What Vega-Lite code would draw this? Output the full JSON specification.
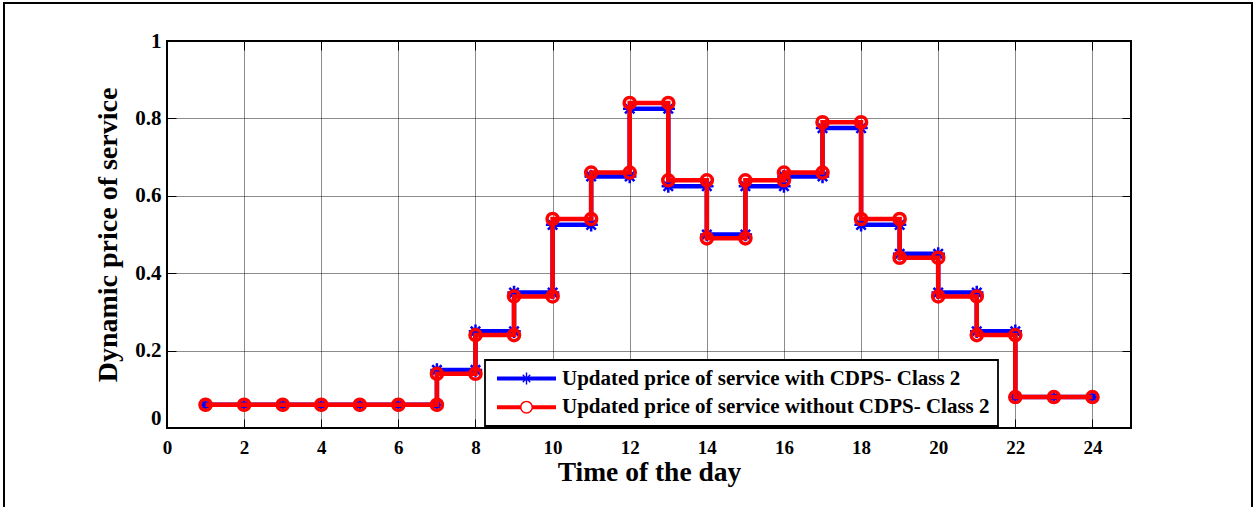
{
  "$schema": "https://vega.github.io/schema/vega-lite/v6.json",
  "width": 1248,
  "height": 506,
  "autosize": {"type": "none"},
  "padding": {"left": 4, "top": 3, "right": 5, "bottom": 0},
  "background": "white",
  "config": {
    "view": {"stroke": "black", "strokeWidth": 2},
    "font": "Liberation Serif",
    "axis": {
      "labelFont": "Liberation Serif",
      "titleFont": "Liberation Serif",
      "labelColor": "black",
      "titleColor": "black",
      "labelFontWeight": "bold",
      "titleFontWeight": "bold",
      "gridColor": "black",
      "gridDash": [1, 1],
      "gridWidth": 1,
      "gridOpacity": 0.9,
      "domain": false,
      "ticks": true,
      "tickColor": "black",
      "tickWidth": 1,
      "tickSize": -9,
      "labelFlush": false,
      "labelOverlap": false
    }
  },
  "resolve": {"axis": {"x": "independent", "y": "independent"}},
  "data": {
    "values": [
      {"series": "Updated price of service with CDPS- Class 2", "step": 1, "hour": 1, "price": 0.06},
      {"series": "Updated price of service with CDPS- Class 2", "step": 2, "hour": 2, "price": 0.06},
      {"series": "Updated price of service with CDPS- Class 2", "step": 3, "hour": 3, "price": 0.06},
      {"series": "Updated price of service with CDPS- Class 2", "step": 4, "hour": 4, "price": 0.06},
      {"series": "Updated price of service with CDPS- Class 2", "step": 5, "hour": 5, "price": 0.06},
      {"series": "Updated price of service with CDPS- Class 2", "step": 6, "hour": 6, "price": 0.06},
      {"series": "Updated price of service with CDPS- Class 2", "step": 7, "hour": 7, "price": 0.06},
      {"series": "Updated price of service with CDPS- Class 2", "step": 8, "hour": 7, "price": 0.15},
      {"series": "Updated price of service with CDPS- Class 2", "step": 9, "hour": 8, "price": 0.15},
      {"series": "Updated price of service with CDPS- Class 2", "step": 10, "hour": 8, "price": 0.25},
      {"series": "Updated price of service with CDPS- Class 2", "step": 11, "hour": 9, "price": 0.25},
      {"series": "Updated price of service with CDPS- Class 2", "step": 12, "hour": 9, "price": 0.35},
      {"series": "Updated price of service with CDPS- Class 2", "step": 13, "hour": 10, "price": 0.35},
      {"series": "Updated price of service with CDPS- Class 2", "step": 14, "hour": 10, "price": 0.525},
      {"series": "Updated price of service with CDPS- Class 2", "step": 15, "hour": 11, "price": 0.525},
      {"series": "Updated price of service with CDPS- Class 2", "step": 16, "hour": 11, "price": 0.65},
      {"series": "Updated price of service with CDPS- Class 2", "step": 17, "hour": 12, "price": 0.65},
      {"series": "Updated price of service with CDPS- Class 2", "step": 18, "hour": 12, "price": 0.825},
      {"series": "Updated price of service with CDPS- Class 2", "step": 19, "hour": 13, "price": 0.825},
      {"series": "Updated price of service with CDPS- Class 2", "step": 20, "hour": 13, "price": 0.625},
      {"series": "Updated price of service with CDPS- Class 2", "step": 21, "hour": 14, "price": 0.625},
      {"series": "Updated price of service with CDPS- Class 2", "step": 22, "hour": 14, "price": 0.5},
      {"series": "Updated price of service with CDPS- Class 2", "step": 23, "hour": 15, "price": 0.5},
      {"series": "Updated price of service with CDPS- Class 2", "step": 24, "hour": 15, "price": 0.625},
      {"series": "Updated price of service with CDPS- Class 2", "step": 25, "hour": 16, "price": 0.625},
      {"series": "Updated price of service with CDPS- Class 2", "step": 26, "hour": 16, "price": 0.65},
      {"series": "Updated price of service with CDPS- Class 2", "step": 27, "hour": 17, "price": 0.65},
      {"series": "Updated price of service with CDPS- Class 2", "step": 28, "hour": 17, "price": 0.775},
      {"series": "Updated price of service with CDPS- Class 2", "step": 29, "hour": 18, "price": 0.775},
      {"series": "Updated price of service with CDPS- Class 2", "step": 30, "hour": 18, "price": 0.525},
      {"series": "Updated price of service with CDPS- Class 2", "step": 31, "hour": 19, "price": 0.525},
      {"series": "Updated price of service with CDPS- Class 2", "step": 32, "hour": 19, "price": 0.45},
      {"series": "Updated price of service with CDPS- Class 2", "step": 33, "hour": 20, "price": 0.45},
      {"series": "Updated price of service with CDPS- Class 2", "step": 34, "hour": 20, "price": 0.35},
      {"series": "Updated price of service with CDPS- Class 2", "step": 35, "hour": 21, "price": 0.35},
      {"series": "Updated price of service with CDPS- Class 2", "step": 36, "hour": 21, "price": 0.25},
      {"series": "Updated price of service with CDPS- Class 2", "step": 37, "hour": 22, "price": 0.25},
      {"series": "Updated price of service with CDPS- Class 2", "step": 38, "hour": 22, "price": 0.08},
      {"series": "Updated price of service with CDPS- Class 2", "step": 39, "hour": 23, "price": 0.08},
      {"series": "Updated price of service with CDPS- Class 2", "step": 40, "hour": 24, "price": 0.08},
      {"series": "Updated price of service without CDPS- Class 2", "step": 1, "hour": 1, "price": 0.06},
      {"series": "Updated price of service without CDPS- Class 2", "step": 2, "hour": 2, "price": 0.06},
      {"series": "Updated price of service without CDPS- Class 2", "step": 3, "hour": 3, "price": 0.06},
      {"series": "Updated price of service without CDPS- Class 2", "step": 4, "hour": 4, "price": 0.06},
      {"series": "Updated price of service without CDPS- Class 2", "step": 5, "hour": 5, "price": 0.06},
      {"series": "Updated price of service without CDPS- Class 2", "step": 6, "hour": 6, "price": 0.06},
      {"series": "Updated price of service without CDPS- Class 2", "step": 7, "hour": 7, "price": 0.06},
      {"series": "Updated price of service without CDPS- Class 2", "step": 8, "hour": 7, "price": 0.14},
      {"series": "Updated price of service without CDPS- Class 2", "step": 9, "hour": 8, "price": 0.14},
      {"series": "Updated price of service without CDPS- Class 2", "step": 10, "hour": 8, "price": 0.24},
      {"series": "Updated price of service without CDPS- Class 2", "step": 11, "hour": 9, "price": 0.24},
      {"series": "Updated price of service without CDPS- Class 2", "step": 12, "hour": 9, "price": 0.34},
      {"series": "Updated price of service without CDPS- Class 2", "step": 13, "hour": 10, "price": 0.34},
      {"series": "Updated price of service without CDPS- Class 2", "step": 14, "hour": 10, "price": 0.54},
      {"series": "Updated price of service without CDPS- Class 2", "step": 15, "hour": 11, "price": 0.54},
      {"series": "Updated price of service without CDPS- Class 2", "step": 16, "hour": 11, "price": 0.66},
      {"series": "Updated price of service without CDPS- Class 2", "step": 17, "hour": 12, "price": 0.66},
      {"series": "Updated price of service without CDPS- Class 2", "step": 18, "hour": 12, "price": 0.84},
      {"series": "Updated price of service without CDPS- Class 2", "step": 19, "hour": 13, "price": 0.84},
      {"series": "Updated price of service without CDPS- Class 2", "step": 20, "hour": 13, "price": 0.64},
      {"series": "Updated price of service without CDPS- Class 2", "step": 21, "hour": 14, "price": 0.64},
      {"series": "Updated price of service without CDPS- Class 2", "step": 22, "hour": 14, "price": 0.49},
      {"series": "Updated price of service without CDPS- Class 2", "step": 23, "hour": 15, "price": 0.49},
      {"series": "Updated price of service without CDPS- Class 2", "step": 24, "hour": 15, "price": 0.64},
      {"series": "Updated price of service without CDPS- Class 2", "step": 25, "hour": 16, "price": 0.64},
      {"series": "Updated price of service without CDPS- Class 2", "step": 26, "hour": 16, "price": 0.66},
      {"series": "Updated price of service without CDPS- Class 2", "step": 27, "hour": 17, "price": 0.66},
      {"series": "Updated price of service without CDPS- Class 2", "step": 28, "hour": 17, "price": 0.79},
      {"series": "Updated price of service without CDPS- Class 2", "step": 29, "hour": 18, "price": 0.79},
      {"series": "Updated price of service without CDPS- Class 2", "step": 30, "hour": 18, "price": 0.54},
      {"series": "Updated price of service without CDPS- Class 2", "step": 31, "hour": 19, "price": 0.54},
      {"series": "Updated price of service without CDPS- Class 2", "step": 32, "hour": 19, "price": 0.44},
      {"series": "Updated price of service without CDPS- Class 2", "step": 33, "hour": 20, "price": 0.44},
      {"series": "Updated price of service without CDPS- Class 2", "step": 34, "hour": 20, "price": 0.34},
      {"series": "Updated price of service without CDPS- Class 2", "step": 35, "hour": 21, "price": 0.34},
      {"series": "Updated price of service without CDPS- Class 2", "step": 36, "hour": 21, "price": 0.24},
      {"series": "Updated price of service without CDPS- Class 2", "step": 37, "hour": 22, "price": 0.24},
      {"series": "Updated price of service without CDPS- Class 2", "step": 38, "hour": 22, "price": 0.08},
      {"series": "Updated price of service without CDPS- Class 2", "step": 39, "hour": 23, "price": 0.08},
      {"series": "Updated price of service without CDPS- Class 2", "step": 40, "hour": 24, "price": 0.08}
    ]
  },
  "layer": [
    {
      "data": {"values": [{}]},
      "mark": {"type": "rect", "filled": false, "stroke": "black", "strokeWidth": 2},
      "encoding": {
        "x": {
          "datum": 0,
          "axis": {
            "orient": "top",
            "offset": -38,
            "values": [0, 2, 4, 6, 8, 10, 12, 14, 16, 18, 20, 22, 24],
            "grid": true,
            "labels": false,
            "title": null
          }
        },
        "x2": {"datum": 25},
        "y": {
          "datum": 0,
          "axis": {
            "orient": "right",
            "offset": -121,
            "values": [0, 0.2, 0.4, 0.6, 0.8, 1],
            "grid": false,
            "labels": false,
            "title": null
          }
        },
        "y2": {"datum": 1}
      }
    },
    {
      "transform": [{"filter": "datum.series === 'Updated price of service with CDPS- Class 2'"}],
      "mark": {"type": "line", "strokeWidth": 4.5, "strokeJoin": "miter"},
      "encoding": {
        "x": {
          "field": "hour", "type": "quantitative",
          "scale": {"domain": [0, 25], "range": [163, 1127], "nice": false, "zero": false},
          "axis": {
            "orient": "bottom",
            "values": [0, 2, 4, 6, 8, 10, 12, 14, 16, 18, 20, 22, 24],
            "format": "~g",
            "offset": -81,
            "grid": false,
            "labelFontSize": 19,
            "labelPadding": 19,
            "title": "Time of the day",
            "titleFontSize": 27.5,
            "titlePadding": 1
          }
        },
        "y": {
          "field": "price", "type": "quantitative",
          "scale": {"domain": [0, 1], "range": [425, 38], "nice": false},
          "axis": {
            "orient": "left",
            "values": [0, 0.2, 0.4, 0.6, 0.8, 1],
            "format": "~g",
            "offset": -163,
            "grid": true,
            "labelFontSize": 21,
            "labelPadding": 15,
            "labelBaseline": {"condition": {"test": "datum.value === 0", "value": "bottom"}, "value": "middle"},
            "title": "Dynamic price of service",
            "titleFontSize": 28,
            "titlePadding": 12
          }
        },
        "order": {"field": "step", "type": "quantitative"},
        "color": {
          "field": "series", "type": "nominal",
          "scale": {
            "domain": ["Updated price of service with CDPS- Class 2", "Updated price of service without CDPS- Class 2"],
            "range": ["#0000ff", "#ff0000"]
          },
          "legend": {
            "orient": "none",
            "legendX": 481,
            "legendY": 357,
            "title": null,
            "padding": 8,
            "fillColor": "white",
            "strokeColor": "black",
            "labelFont": "Liberation Serif",
            "labelFontSize": 21,
            "labelFontWeight": "bold",
            "labelColor": "black",
            "labelLimit": 0,
            "symbolSize": 144,
            "symbolStrokeWidth": 0,
            "symbolOffset": 23,
            "labelOffset": 25,
            "rowPadding": 6.7,
            "encode": {
              "legend": {"update": {"strokeWidth": {"value": 1.8}}},
              "symbols": {
                "update": {
                  "shape": {"signal": "datum.value === 'Updated price of service with CDPS- Class 2' ? 'M-4.92,-0.33L4.92,-0.33L4.92,0.33L-4.92,0.33ZM-0.12,-1L0.12,-1L0.12,1L-0.12,1ZM-0.7,-0.55L-0.55,-0.7L0.7,0.55L0.55,0.7ZM0.55,-0.7L0.7,-0.55L-0.55,0.7L-0.7,0.55Z' : 'M-4.92,-0.33L-0.95,-0.33L-0.95,0.33L-4.92,0.33ZM0.95,-0.33L4.92,-0.33L4.92,0.33L0.95,0.33ZM1.08,0A1.08,1.08,0,1,1,-1.08,0A1.08,1.08,0,1,1,1.08,0ZM0.83,0A0.83,0.83,0,1,0,-0.83,0A0.83,0.83,0,1,0,0.83,0Z'"},
                  "fill": {"scale": "color", "field": "value"},
                  "fillOpacity": {"value": 1},
                  "strokeWidth": {"value": 0}
                }
              }
            }
          }
        }
      }
    },
    {
      "transform": [{"filter": "datum.series === 'Updated price of service with CDPS- Class 2'"}],
      "mark": {"type": "point", "shape": "M-1,0L1,0M0,-1L0,1M-0.7,-0.7L0.7,0.7M-0.7,0.7L0.7,-0.7", "size": 180, "strokeWidth": 2.5, "filled": false, "opacity": 1},
      "encoding": {
        "x": {"field": "hour", "type": "quantitative", "axis": null},
        "y": {"field": "price", "type": "quantitative", "axis": null},
        "color": {"field": "series", "type": "nominal"}
      }
    },
    {
      "transform": [{"filter": "datum.series === 'Updated price of service without CDPS- Class 2'"}],
      "mark": {"type": "line", "strokeWidth": 4.5, "strokeJoin": "miter"},
      "encoding": {
        "x": {"field": "hour", "type": "quantitative", "axis": null},
        "y": {"field": "price", "type": "quantitative", "axis": null},
        "order": {"field": "step", "type": "quantitative"},
        "color": {"field": "series", "type": "nominal"}
      }
    },
    {
      "transform": [{"filter": "datum.series === 'Updated price of service without CDPS- Class 2'"}],
      "mark": {"type": "point", "shape": "circle", "size": 123, "strokeWidth": 3.5, "filled": false, "opacity": 1},
      "encoding": {
        "x": {"field": "hour", "type": "quantitative", "axis": null},
        "y": {"field": "price", "type": "quantitative", "axis": null},
        "color": {"field": "series", "type": "nominal"}
      }
    }
  ]
}
